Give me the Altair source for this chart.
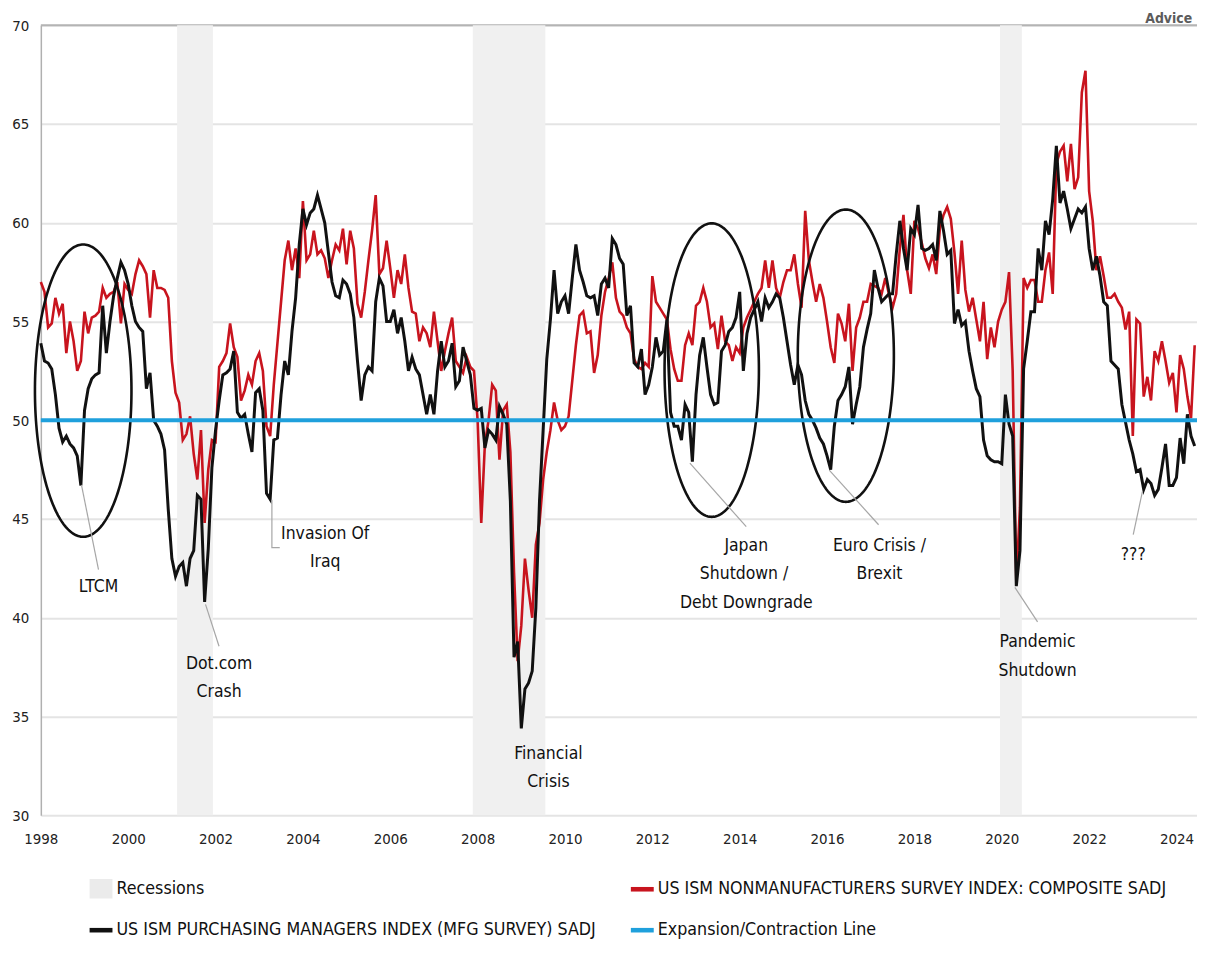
import altair as alt
import numpy as np
import pandas as pd

FONT = "DejaVu Sans Condensed, Liberation Sans Narrow, DejaVu Sans, sans-serif"
RED = "#c8141e"
BLACK = "#111111"
BLUE = "#1fa0dc"
REC = "#f0f0f0"

first_year = 1998  # monthly observations, January 1998 onward

ism_mfg = [
    53.9, 53.0, 52.9, 52.6, 51.3, 49.6, 48.9, 49.2, 48.8, 48.6, 48.2, 46.7,
    50.5, 51.6, 52.1, 52.3, 52.4, 55.8, 53.4, 55.0, 56.3, 57.2, 58.0, 57.6,
    56.9, 55.8, 55.0, 54.7, 54.5, 51.6, 52.4, 50.0, 49.7, 49.3, 48.5, 45.5,
    43.0, 42.1, 42.6, 42.8, 41.6, 43.0, 43.4, 46.2, 46.0, 40.8, 43.5, 47.6,
    49.5, 51.0, 52.3, 52.4, 52.6, 53.5, 50.4, 50.1, 50.3, 49.3, 48.4, 51.4,
    51.6, 50.5, 46.3, 46.0, 49.0, 49.1, 51.3, 53.0, 52.3, 54.5, 56.2, 58.9,
    60.7, 59.9, 60.5, 60.7, 61.4, 60.7, 60.0, 58.5, 57.0, 56.3, 56.2, 57.1,
    56.9, 56.4, 55.2, 53.0, 51.0, 52.3, 52.7, 52.5, 56.0, 57.2, 56.8, 55.0,
    55.0, 55.6, 54.4, 55.2, 54.0, 52.5, 53.2, 52.6, 52.3, 51.3, 50.3, 51.3,
    50.3, 52.5, 54.0, 52.7, 53.0, 53.9, 51.7, 52.0, 53.7, 53.0, 52.3, 50.6,
    50.5, 50.6, 48.6, 49.5, 49.3, 49.0, 50.7, 50.3, 49.8, 45.9, 38.0, 38.8,
    34.4, 36.4, 36.7, 37.3, 40.5, 45.9, 49.5, 53.1, 55.1, 57.6, 55.4, 56.0,
    56.3, 55.4, 57.2, 58.9, 57.6, 57.0, 56.3, 56.2, 56.3, 55.3, 56.9, 57.2,
    56.7, 59.2, 58.9, 58.2, 57.9, 55.3, 55.8, 52.9, 52.7, 53.6, 51.3, 51.8,
    52.7, 54.2, 53.3, 53.5, 55.1, 50.4, 49.7, 49.7, 49.0, 50.8, 50.4, 47.9,
    51.3, 53.3, 54.2, 52.7, 51.3, 50.8, 50.9, 53.5, 53.8, 54.5, 54.7, 55.2,
    56.5, 52.5, 54.4, 55.2, 55.6, 56.0, 55.0, 56.2, 55.7, 56.0, 56.4, 56.2,
    55.2, 54.0, 52.8, 51.8, 52.8, 52.3, 51.0, 50.3, 50.0, 49.6, 49.1, 48.8,
    48.2, 47.5, 49.7, 51.0, 51.3, 51.7, 52.7, 49.8, 50.8, 51.7, 53.7, 54.6,
    55.4, 57.6, 56.7, 56.0, 56.2, 56.4, 56.4, 58.4, 60.1, 58.7, 57.6, 59.7,
    59.4, 60.9, 58.7, 58.6, 58.7, 58.9, 58.1, 60.6, 59.6, 58.4, 58.6, 54.9,
    55.6, 54.8, 55.0, 53.5, 52.5, 51.6, 51.2, 49.0, 48.2, 48.0, 47.9, 47.9,
    47.8, 51.3, 49.8, 49.2, 41.6, 43.4, 52.6, 54.0, 55.5, 55.5, 58.7, 57.6,
    60.1, 59.4, 61.2, 63.9, 61.0, 61.6, 60.7, 59.7, 60.2, 60.7, 60.5, 60.8,
    58.7, 57.6, 58.3, 57.3, 56.0, 55.8, 53.0, 52.8, 52.6, 50.8, 49.9, 49.0,
    48.3, 47.4, 47.5, 46.5, 47.0, 46.8, 46.2, 46.5, 47.6, 48.8, 46.7, 46.7,
    47.1, 49.1, 47.8, 50.3, 49.2, 48.7,
]

ism_services = [
    57.0, 56.5, 54.7, 54.9, 56.2, 55.4, 55.9, 53.4, 55.0, 54.0, 52.5, 53.0,
    55.5, 54.4, 55.2, 55.3, 55.5, 56.7, 56.2, 56.4, 56.5, 57.0, 54.9, 56.9,
    56.6, 56.4, 57.4, 58.1, 57.8, 57.4, 55.2, 57.6, 56.7, 56.7, 56.6, 56.2,
    53.0, 51.4, 50.9, 49.0, 49.3, 50.2, 48.3, 47.0, 49.5, 44.8, 47.5, 49.0,
    48.9, 52.7, 53.0, 53.4, 54.9, 53.7, 53.2, 51.0, 51.5, 52.3, 51.8, 53.0,
    53.4, 52.5, 49.7, 49.2, 51.8, 53.9, 56.0, 58.1, 59.1, 57.6, 58.7, 57.2,
    61.1, 58.1, 58.4, 59.6, 58.4, 58.6, 58.2, 57.2, 58.1, 58.9, 58.6, 59.7,
    57.9, 59.6, 58.7, 55.9, 55.2, 56.5, 58.1, 59.6, 61.4, 57.4, 57.7, 59.1,
    57.7, 56.2, 57.6, 56.9, 58.4, 56.7, 55.5, 55.4, 54.0, 54.7, 54.4, 53.7,
    55.5, 54.0, 52.5, 53.5, 54.4, 55.2, 53.0, 52.7, 52.4, 53.2, 52.7, 52.5,
    50.0, 44.8, 48.8, 50.0, 51.8, 51.5, 48.0, 50.5, 50.8, 48.4, 42.3, 37.8,
    39.6, 43.0, 41.4, 40.0, 43.7, 44.8, 47.0, 48.4, 49.5, 50.9, 50.0, 49.5,
    49.7, 50.2, 52.0, 53.8, 55.3, 55.5, 54.4, 54.5, 52.4, 53.3, 55.3, 56.5,
    57.2, 58.0, 56.2, 55.5, 55.3, 54.7, 54.4, 53.1, 52.7, 52.6, 52.9, 52.7,
    57.3, 56.0, 55.7, 55.4, 55.1, 53.6, 52.6, 52.0, 52.0, 53.8, 54.4, 53.8,
    55.8, 56.0, 56.7, 56.0, 54.7, 54.9, 53.6, 55.3, 54.0, 53.8, 53.0, 53.7,
    53.4, 54.7, 55.2, 55.6, 56.0, 56.4, 56.7, 58.1, 56.7, 58.1, 56.7, 56.2,
    57.0, 57.6, 57.6, 58.4, 56.9, 55.7, 60.6, 58.1, 57.0, 56.0, 56.9, 56.2,
    55.0, 53.7, 52.9, 55.4, 54.9, 54.0, 55.9, 52.5, 54.7, 55.2, 56.0, 56.0,
    56.9, 56.8, 56.7, 56.4, 57.2, 56.4, 55.7, 56.4, 58.7, 60.4, 57.6, 56.4,
    60.1, 59.7, 59.0, 58.2, 57.7, 58.4, 57.4, 59.7, 60.4, 60.8, 60.2, 58.5,
    56.4, 59.1, 56.6, 55.5, 56.2, 55.1, 54.0, 56.0, 53.1, 54.7, 53.7, 55.0,
    55.6, 56.0, 57.5, 52.5, 41.8, 45.6, 57.2, 56.7, 57.1, 57.1, 56.0, 56.0,
    57.6, 58.5, 56.4, 63.0, 63.6, 63.9, 62.1, 64.0, 61.7, 62.3, 66.6, 67.7,
    61.6, 60.1, 57.6, 58.3, 57.3, 56.2, 56.2, 56.4, 56.0, 55.7, 54.6, 55.5,
    49.2, 55.1, 54.9, 51.2, 52.2, 51.0, 53.5, 53.0, 54.0, 53.0, 51.9, 52.4,
    50.4, 53.3, 52.6, 51.2, 50.1, 53.8,
]

recession_start = [2001.12, 2007.89, 2019.96]
recession_end = [2001.94, 2009.55, 2020.46]
expansion_level = [50]
y_domain = [30, 70]
x_domain = [1998, 2024.47]
y_ticks = [30, 35, 40, 45, 50, 55, 60, 65, 70]
x_ticks = [1998, 2000, 2002, 2004, 2006, 2008, 2010, 2012, 2014, 2016, 2018, 2020, 2022, 2024]

# circled episodes (centre and half-axes, in years / index points)
ring_cx = [1998.97, 2013.36, 2016.43]
ring_cy = [51.5, 52.54, 53.27]
ring_rx = [1.105, 1.08, 1.10]
ring_ry = [7.4, 7.43, 7.4]

note_text = ["LTCM", "Dot.com", "Crash", "Invasion Of", "Iraq", "Financial", "Crisis",
             "Japan", "Shutdown /", "Debt Downgrade", "Euro Crisis /", "Brexit",
             "Pandemic", "Shutdown", "???"]
note_x = [1999.32, 2002.08, 2002.08, 2004.51, 2004.51, 2009.62, 2009.62,
          2014.15, 2014.10, 2014.15, 2017.20, 2017.20, 2020.82, 2020.82, 2023.01]
note_y = [41.54, 37.66, 36.25, 44.26, 42.80, 33.12, 31.66,
          43.65, 42.19, 40.73, 43.65, 42.24, 38.77, 37.30, 43.20]

leader_id = [0, 0, 1, 1, 2, 2, 2, 3, 3, 4, 4, 5, 5, 6, 6]
leader_x = [1998.93, 1999.32, 2001.77, 2002.08, 2003.29, 2003.29, 2003.47,
            2012.86, 2014.15, 2016.05, 2017.18, 2020.30, 2020.82, 2023.22, 2023.01]
leader_y = [46.73, 42.44, 40.68, 38.56, 45.97, 43.55, 43.55,
            47.83, 44.61, 47.48, 44.71, 41.54, 39.79, 46.39, 44.21]

# legend entries, listed column by column (left column first)
legend_names = ["Recessions",
                "US ISM PURCHASING MANAGERS INDEX (MFG SURVEY) SADJ",
                "US ISM NONMANUFACTURERS SURVEY INDEX: COMPOSITE SADJ",
                "Expansion/Contraction Line"]
legend_colors = ["#ebebeb", BLACK, RED, BLUE]
legend_shapes = ["M-1,-0.85L1,-0.85L1,0.85L-1,0.85Z",
                 "M-1,-0.2L1,-0.2L1,0.2L-1,0.2Z",
                 "M-1,-0.2L1,-0.2L1,0.2L-1,0.2Z",
                 "M-1,-0.2L1,-0.2L1,0.2L-1,0.2Z"]

# ---------------------------------------------------------------- tables
n = len(ism_mfg)
t = first_year + np.arange(n) / 12.0
series = pd.DataFrame({
    "t": np.concatenate([t, t]),
    "v": ism_services + ism_mfg,
    "s": ["svc"] * n + ["mfg"] * n,
})
rec_df = pd.DataFrame({"a": recession_start, "b": recession_end,
                       "lo": [y_domain[0]] * 3, "hi": [y_domain[1]] * 3})
theta = np.linspace(0, 2 * np.pi, 241)
ring_rows = []
for i in range(len(ring_cx)):
    for k, th in enumerate(theta):
        ring_rows.append({"id": i, "k": k,
                          "t": ring_cx[i] + ring_rx[i] * np.cos(th),
                          "v": ring_cy[i] + ring_ry[i] * np.sin(th)})
ring_df = pd.DataFrame(ring_rows)
note_df = pd.DataFrame({"label": note_text, "t": note_x, "v": note_y})
lead_df = pd.DataFrame({"id": leader_id, "k": range(len(leader_id)), "t": leader_x, "v": leader_y})
legend_df = pd.DataFrame({"name": legend_names})

xs = alt.Scale(domain=x_domain, nice=False, zero=False)
ys = alt.Scale(domain=y_domain, nice=False, zero=False)
x_axis = alt.Axis(values=x_ticks, format="d", title=None, grid=False, labelFlush=False)
y_axis = alt.Axis(values=y_ticks, format="d", title=None, grid=True)


def X(field="t"):
    return alt.X(f"{field}:Q", scale=xs, axis=x_axis)


def Y(field="v"):
    return alt.Y(f"{field}:Q", scale=ys, axis=y_axis)


top_line = alt.Chart(pd.DataFrame({"v": [y_domain[1]]})).mark_rule(
    color="#b4b4b4", strokeWidth=2).encode(y=Y())

rec = alt.Chart(rec_df).mark_rect(color=REC).encode(
    x=X("a"), x2="b:Q", y=Y("lo"), y2="hi:Q")

svc_line = alt.Chart(series[series.s == "svc"]).mark_line(
    color=RED, strokeWidth=2.6).encode(x=X(), y=Y())
mfg_line = alt.Chart(series[series.s == "mfg"]).mark_line(
    color=BLACK, strokeWidth=3).encode(x=X(), y=Y())

rings = alt.Chart(ring_df).mark_line(color=BLACK, strokeWidth=2.6).encode(
    x=X(), y=Y(), detail="id:N", order="k:Q")

zero_line = alt.Chart(pd.DataFrame({"v": expansion_level})).mark_rule(
    color=BLUE, strokeWidth=4).encode(y=Y())

leaders = alt.Chart(lead_df).mark_line(color="#a6a6a6", strokeWidth=1.2).encode(
    x=X(), y=Y(), detail="id:N", order="k:Q")

notes = alt.Chart(note_df).mark_text(
    font=FONT, fontSize=17.5, color="#111111", align="center", baseline="middle").encode(
    x=X(), y=Y(), text="label:N")

brand = alt.Chart(pd.DataFrame({"label": ["Advice"], "t": [2024.36], "v": [70.12]})).mark_text(
    font=FONT, fontSize=14, fontWeight="bold", color="#5c5c5c", align="right",
    baseline="alphabetic").encode(x=X(), y=Y(), text="label:N")

leg = alt.Legend(title=None, orient="none", legendX=49, legendY=856, columns=2,
                 columnPadding=35, rowPadding=20, labelFont=FONT, labelFontSize=17.8,
                 labelColor="#111111", labelLimit=900, symbolSize=529,
                 symbolStrokeWidth=0, symbolOpacity=1, labelOffset=4)
legend_layer = alt.Chart(legend_df).mark_point(filled=True, opacity=0).encode(
    x=alt.value(0), y=alt.value(0),
    color=alt.Color("name:N", scale=alt.Scale(domain=legend_names, range=legend_colors),
                    sort=legend_names, legend=leg),
    shape=alt.Shape("name:N", scale=alt.Scale(domain=legend_names, range=legend_shapes),
                    sort=legend_names, legend=leg),
)

chart = alt.layer(
    top_line, rec, svc_line, mfg_line, rings, zero_line, leaders, notes, brand, legend_layer
).properties(
    width=1162, height=794,
    autosize=alt.AutoSizeParams(type="none"),
    padding={"left": 33, "top": 15, "right": 0, "bottom": 124},
    background="white",
).configure_axis(
    labelFont=FONT, labelFontSize=15, labelColor="#222222", ticks=False,
    domain=False, gridColor="#e4e4e4", gridWidth=2,
).configure_axisY(
    labelPadding=12, domain=True, domainColor="#b0b0b0", domainWidth=1.5,
).configure_axisX(
    labelPadding=16,
).configure_view(strokeWidth=0)

chart.save("out.html", embed_options={"renderer": "svg", "actions": False})
